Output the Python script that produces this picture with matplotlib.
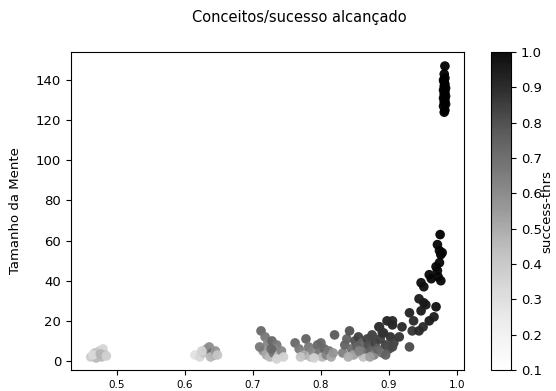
import matplotlib
matplotlib.use("Agg")
import matplotlib.pyplot as plt
import numpy as np

# sucesso alcançado (x), tamanho da mente (y), success-thrs (cor)
sucesso_a = [0.462, 0.468, 0.472, 0.475, 0.478, 0.480, 0.483, 0.470, 0.465, 0.476, 0.485]
mente_a = [2, 4, 3, 5, 2, 6, 3, 1.5, 3, 3.5, 2.5]
thrs_a = [0.38, 0.42, 0.45, 0.40, 0.44, 0.34, 0.42, 0.45, 0.32, 0.46, 0.36]

sucesso_b = [0.615, 0.622, 0.628, 0.632, 0.636, 0.640, 0.643, 0.638, 0.645, 0.625, 0.648]
mente_b = [3, 2, 4, 6, 7, 4, 3, 2, 5, 5, 3]
thrs_b = [0.28, 0.33, 0.40, 0.50, 0.58, 0.68, 0.62, 0.45, 0.55, 0.35, 0.40]

sucesso_c = [0.712, 0.718, 0.722, 0.728, 0.735, 0.732, 0.715, 0.720, 0.725, 0.730,
             0.738, 0.742, 0.710, 0.735, 0.745, 0.727]
mente_c = [15, 12, 9, 10, 8, 6, 5, 3, 2, 4, 3, 5, 7, 1, 2, 6]
thrs_c = [0.70, 0.65, 0.60, 0.70, 0.65, 0.60, 0.55, 0.50, 0.45, 0.65,
          0.45, 0.60, 0.65, 0.35, 0.35, 0.70]

sucesso_d = [0.762, 0.768, 0.772, 0.778, 0.776, 0.782, 0.785, 0.788, 0.792, 0.795,
             0.798, 0.802, 0.805, 0.808, 0.812, 0.815, 0.820, 0.818, 0.770, 0.790, 0.800]
mente_d = [9, 6, 4, 11, 3, 7, 2, 5, 3, 8, 4, 2, 6, 3, 5, 2, 13, 4, 2, 1.5, 9]
thrs_d = [0.70, 0.65, 0.60, 0.72, 0.50, 0.65, 0.45, 0.60, 0.55, 0.70,
          0.65, 0.45, 0.70, 0.60, 0.65, 0.50, 0.75, 0.55, 0.40, 0.35, 0.70]

sucesso_e = [0.832, 0.835, 0.838, 0.842, 0.845, 0.848, 0.850, 0.853, 0.855, 0.858,
             0.860, 0.862, 0.865, 0.868, 0.870, 0.873, 0.875, 0.878, 0.880, 0.883,
             0.885, 0.887, 0.890, 0.892, 0.895, 0.897, 0.900, 0.902, 0.905, 0.907,
             0.840, 0.856, 0.872, 0.895]
mente_e = [4, 8, 11, 15, 6, 3, 10, 7, 12, 4,
           9, 2, 6, 11, 8, 5, 13, 3, 9, 6,
           17, 11, 4, 14, 8, 20, 6, 12, 18, 9,
           2, 5, 2, 3]
thrs_e = [0.62, 0.72, 0.72, 0.78, 0.68, 0.52, 0.78, 0.72, 0.82, 0.58,
          0.72, 0.42, 0.68, 0.82, 0.78, 0.72, 0.82, 0.62, 0.82, 0.72,
          0.86, 0.82, 0.68, 0.86, 0.82, 0.90, 0.78, 0.86, 0.90, 0.82,
          0.48, 0.62, 0.52, 0.72]

sucesso_f = [0.905, 0.919, 0.930, 0.936, 0.947, 0.954, 0.969, 0.959, 0.966, 0.944,
             0.951, 0.934, 0.944, 0.890, 0.915, 0.930, 0.905, 0.950, 0.886, 0.876,
             0.947, 0.951, 0.959, 0.962, 0.971, 0.972, 0.974, 0.976, 0.974, 0.971,
             0.975, 0.978, 0.969, 0.976]
mente_f = [20, 17, 24, 20, 25, 28, 27, 20, 22, 31,
           29, 15, 15, 14, 12, 7, 7, 17, 17, 12,
           39, 37, 43, 41, 45, 42, 49, 53, 55, 58,
           63, 54, 47, 40]
thrs_f = [0.88, 0.88, 0.90, 0.88, 0.92, 0.92, 0.95, 0.92, 0.92, 0.92,
          0.92, 0.85, 0.88, 0.85, 0.85, 0.80, 0.80, 0.88, 0.85, 0.80,
          0.96, 0.96, 0.98, 0.98, 0.98, 0.98, 0.98, 1.00, 0.98, 0.98,
          1.00, 0.98, 0.98, 0.98]

sucesso_g = [0.981, 0.982, 0.980, 0.983, 0.981, 0.982, 0.980, 0.983, 0.981, 0.982,
             0.980, 0.983, 0.981, 0.982, 0.981, 0.980, 0.982, 0.981, 0.982]
mente_g = [124, 125, 127, 128, 129, 130, 131, 132, 133, 134,
           135, 136, 137, 138, 139, 140, 141, 143, 147]
thrs_g = [1.0] * 19

sucesso = sucesso_a + sucesso_b + sucesso_c + sucesso_d + sucesso_e + sucesso_f + sucesso_g
mente = mente_a + mente_b + mente_c + mente_d + mente_e + mente_f + mente_g
thrs = thrs_a + thrs_b + thrs_c + thrs_d + thrs_e + thrs_f + thrs_g

fig = plt.figure(figsize=(5.56, 3.91), dpi=100)
ax = fig.add_axes([0.1277, 0.0537, 0.7068, 0.8133])
cax = fig.add_axes([0.883, 0.0537, 0.036, 0.8133])

sc = ax.scatter(sucesso, mente, c=thrs, cmap="Greys", vmin=0.1, vmax=1.0,
                s=48, alpha=0.95, edgecolors="none")
ax.set_xlim(0.433, 1.010)
ax.set_ylim(-4.5, 154)
ax.set_yticks(np.arange(0, 141, 20))
ax.set_xticks([0.5, 0.6, 0.7, 0.8, 0.9, 1.0])
ax.tick_params(axis="x", labelsize=7.5)
ax.tick_params(axis="y", labelsize=9.5)
ax.set_ylabel("Tamanho da Mente", fontsize=9.5)
ax.yaxis.set_label_coords(-0.125, 0.5)

cb = fig.colorbar(sc, cax=cax)
cb.set_ticks(np.arange(0.1, 1.01, 0.1))
cb.ax.tick_params(labelsize=9.5)
cb.set_label("success-thrs", fontsize=9.5, labelpad=-1)

fig.text(0.538, 0.954, "Conceitos/sucesso alcançado", ha="center", va="center", fontsize=10.5)

fig.savefig("out.png", dpi=100)
